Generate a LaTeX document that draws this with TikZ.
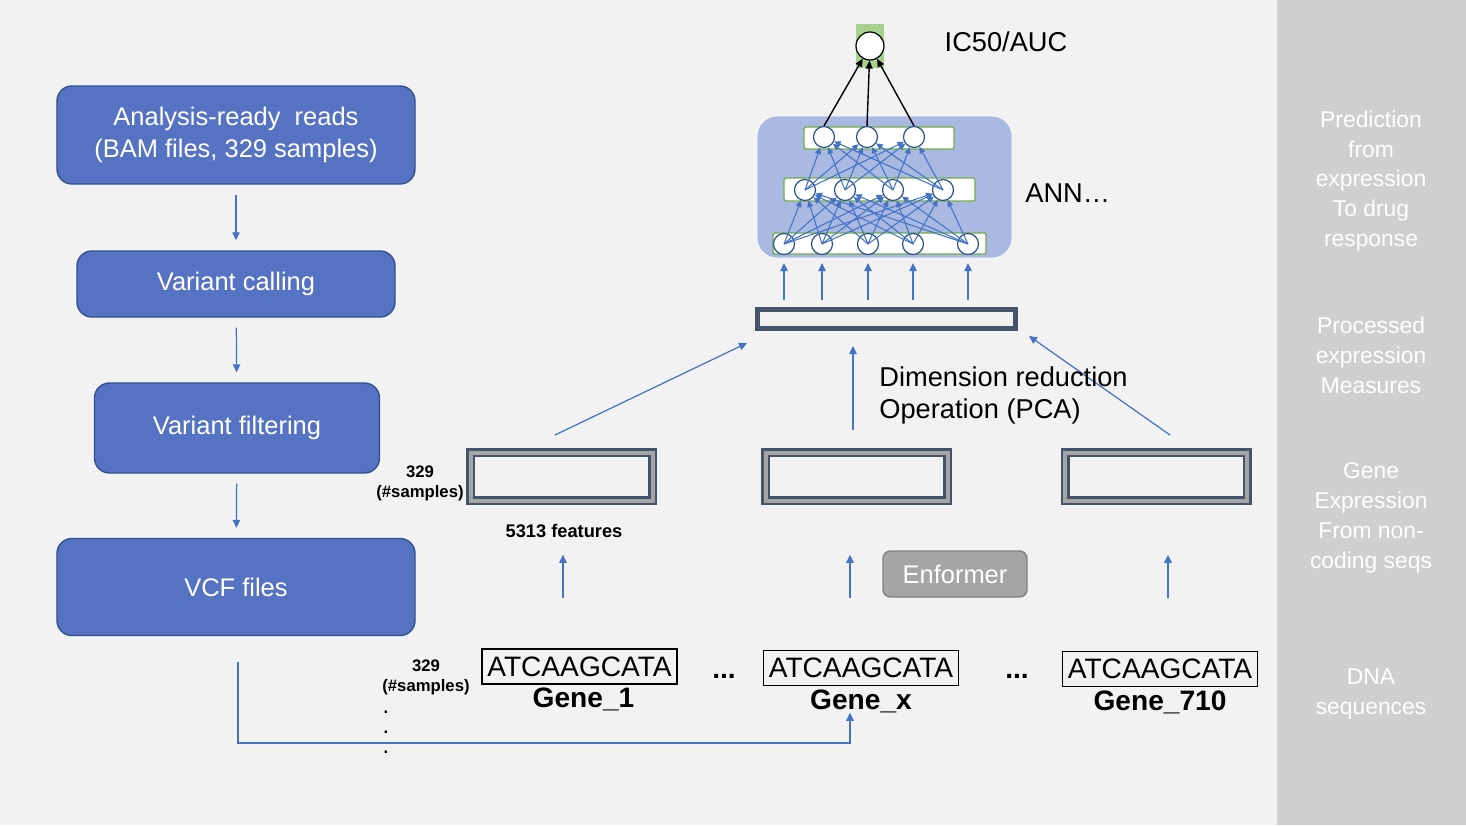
\documentclass[tikz,border=0pt]{standalone}
\usepackage{fontspec}
\setmainfont{Liberation Sans}
\setsansfont{Liberation Sans}
\usepackage{tikz}
\usetikzlibrary{positioning,arrows.meta}
\definecolor{pagegray}{RGB}{242,242,242}
\definecolor{sidegray}{RGB}{207,207,207}
\definecolor{stepblue}{RGB}{86,115,195}
\definecolor{stepedge}{RGB}{47,82,143}
\definecolor{linkblue}{RGB}{68,114,196}
\definecolor{slate}{RGB}{68,84,106}
\definecolor{bandgray}{RGB}{165,165,165}
\definecolor{annblue}{RGB}{169,185,225}
\definecolor{rowgreen}{RGB}{112,173,71}
\definecolor{outgreen}{RGB}{169,209,142}

\tikzset{
  stepbox/.style={draw=stepedge, fill=stepblue, line width=0.8pt, rounded corners=3mm,
    text=white, align=center, font=\fontsize{14.5}{18}\selectfont},
  link/.style={->, draw=linkblue, line width=0.7pt},
  annlink/.style={-{Triangle[length=1.3mm,width=1.2mm]}, draw=linkblue, line width=0.6pt},
  outlink/.style={-{Triangle[length=1.6mm,width=1.4mm]}, draw=black, line width=0.8pt},
  featbox/.style={draw=slate, line width=0.5mm, double=bandgray, double distance=0.8mm,
    minimum width=36.4mm, minimum height=9.6mm, inner sep=0},
  seqbox/.style={draw=black, line width=0.6pt, minimum width=39mm, minimum height=7mm,
    inner sep=0.5pt, font=\fontsize{16}{18}\selectfont},
  genelabel/.style={inner sep=0, font=\bfseries\fontsize{16}{18}\selectfont},
  neuron/.style={circle, draw=stepedge, fill=white, line width=0.7pt, minimum size=4.2mm, inner sep=0},
  annrow/.style={draw=rowgreen, fill=white, line width=0.8pt, rounded corners=0.3mm},
  sidelabel/.style={text=white, align=center, font=\fontsize{13}{17}\selectfont},
  samplelabel/.style={align=center, inner sep=0, font=\bfseries\fontsize{9.5}{11.3}\selectfont},
  biglabel/.style={inner sep=0, font=\fontsize{15.5}{18.2}\selectfont}
}

\begin{document}
\begin{tikzpicture}[x=0.2mm, y=-0.2mm, >={Triangle[length=1.6mm,width=1.5mm]}]
  \useasboundingbox (0,0) rectangle (1466,825);
  \fill[pagegray] (0,0) rectangle (1466,825);
  \fill[sidegray] (1277,0) rectangle (1466,825);

  % stage labels on the right
  \node[sidelabel] (side1) at (1371,181) {Prediction\\from\\expression\\To drug\\response};
  \node[sidelabel] (side2) at (1371,355) {Processed\\expression\\Measures};
  \node[sidelabel] (side3) at (1371,518) {Gene\\Expression\\From non-\\coding seqs};
  \node[sidelabel] (side4) at (1371,694) {DNA\\sequences};

  % variant pipeline
  \node[stepbox, minimum width=71.6mm, minimum height=19.6mm] (reads) at (236,135)
    {Analysis-ready\ \ reads\\(BAM files, 329 samples)};
  \node[stepbox, minimum width=63.6mm, minimum height=13.2mm] (calling) at (236,284) {Variant calling};
  \node[stepbox, minimum width=57mm, minimum height=18mm] (filtering) at (237,428) {Variant filtering};
  \node[stepbox, minimum width=71.6mm, minimum height=19.4mm] (vcf) at (236,587) {VCF files};
  \draw[link, shorten <=2mm, shorten >=2mm] (reads) -- (calling);
  \draw[link, shorten <=2mm, shorten >=2mm] (calling) -- (filtering);
  \draw[link, shorten <=2mm, shorten >=2mm] (filtering) -- (vcf);

  % DNA sequences
  \node[seqbox] (seq1) at (579.5,666.5) {ATCAAGCATA};
  \node[seqbox] (seq2) at (861,668) {ATCAAGCATA};
  \node[seqbox] (seq3) at (1160,669) {ATCAAGCATA};
  \node[genelabel, below=0.6mm of seq1, xshift=0.8mm] (gene1) {Gene\_1};
  \node[genelabel, below=0.6mm of seq2] (gene2) {Gene\_x};
  \node[genelabel, below=0.6mm of seq3] (gene3) {Gene\_710};
  \node[genelabel] (gapa) at (724,676) {...};
  \node[genelabel] (gapb) at (1017,676) {...};
  \node[samplelabel] (rows2) at (426,677) {329\\(\#samples)};
  \node[samplelabel, align=left] (more) at (386,732) {.\\.\\.};

  % expression matrices
  \node[featbox] (feat1) at (561.5,476.5) {};
  \node[featbox] (feat2) at (856.5,476.5) {};
  \node[featbox] (feat3) at (1156,476.5) {};
  \node[samplelabel] (rows1) at (420,483) {329\\(\#samples)};
  \node[samplelabel, font=\bfseries\fontsize{10.4}{12}\selectfont] (nfeat) at (564,531) {5313 features};
  \node[draw=black!50, fill=bandgray, line width=0.8pt, rounded corners=1.5mm, text=white,
    minimum width=28.8mm, minimum height=9.2mm, font=\fontsize{14.5}{17}\selectfont] (enformer) at (955,574) {Enformer};
  \foreach \n/\x in {1/563, 2/850, 3/1168}{
    \coordinate (foot\n) at (\x,598);
    \draw[link] (foot\n) -- ([yshift=-10.6mm]foot\n |- feat\n.south);
  }
  \coordinate (bus) at (238,743);
  \draw[link, shorten <=5.2mm] (vcf.south -| bus) -- (bus) -| (foot2 |- gene2.south);

  % dimension reduction
  \node[draw=slate, line width=1mm, fill=pagegray, minimum width=51.6mm, minimum height=3.8mm,
    inner sep=0] (pca) at (886.5,319) {};
  \coordinate (tail1) at (555,435);  \coordinate (head1) at (747,343);
  \coordinate (tail2) at (853,430);  \coordinate (head2) at (853,346);
  \coordinate (tail3) at (1170,435); \coordinate (head3) at (1029,336);
  \foreach \n in {1,2,3}
    \draw[link] (tail\n) -- (head\n);
  \node[biglabel, anchor=west, align=left] (dimlabel) at (879,395) {Dimension reduction\\Operation (PCA)};

  % network
  \node[draw=white, fill=annblue, rounded corners=4mm, minimum width=51mm, minimum height=28.4mm] (ann) at (884.5,187) {};
  \draw[annrow] (773,233) rectangle (986,254);
  \draw[annrow] (784,178) rectangle (975,201);
  \draw[annrow] (804,127) rectangle (954,149);
  \foreach \i/\x in {1/784, 2/822, 3/868, 4/913, 5/968}
    \node[neuron] (in\i) at (\x,244) {};
  \foreach \j/\x in {1/805, 2/845, 3/893, 4/943}
    \node[neuron] (hid\j) at (\x,190) {};
  \foreach \k/\x in {1/824, 2/867, 3/914}
    \node[neuron] (top\k) at (\x,137) {};
  \foreach \i in {1,...,5}
    \foreach \j in {1,...,4}
      \draw[annlink] (in\i.center) -- (hid\j);
  \foreach \j in {1,...,4}
    \foreach \k in {1,2,3}
      \draw[annlink] (hid\j.center) -- (top\k);
  \foreach \i in {1,...,5}
    \draw[link, shorten <=1.4mm, shorten >=1.6mm] (pca.north -| in\i) -- (in\i.south);
  \node[biglabel, anchor=west] (annlabel) at (1025,193) {ANN…};

  % output
  \node[fill=outgreen, minimum width=5.6mm, minimum height=8.8mm, inner sep=0] (outbg) at (870,46) {};
  \node[neuron, draw=black, minimum size=5.6mm] (out) at (870,46) {};
  \foreach \k in {1,2,3}
    \draw[outlink] (top\k.north) -- (out);
  \node[biglabel] (target) at (1006,42) {IC50/AUC};
\end{tikzpicture}
\end{document}
